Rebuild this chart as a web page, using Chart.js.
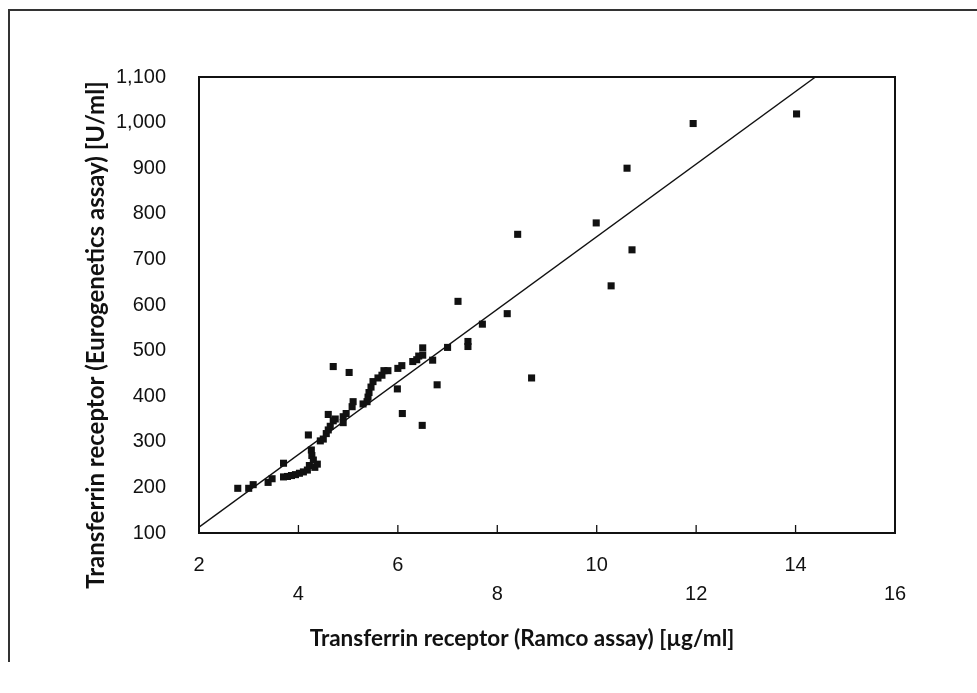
<!DOCTYPE html>
<html>
<head>
<meta charset="utf-8">
<script src="https://cdn.jsdelivr.net/npm/chart.js@4.4.1/dist/chart.umd.min.js"></script>
<style>
  html, body { margin: 0; padding: 0; background: #fff; }
  #wrap { position: relative; width: 977px; height: 693px; overflow: hidden; }
  #frame { position: absolute; left: 8px; top: 9px; width: 990px; height: 651px;
           border-top: 2px solid #333; border-left: 2px solid #333; }
  canvas { position: absolute; left: 0; top: 0; }
</style>
</head>
<body>
<div id="wrap">
  <div id="frame"></div>
  <canvas id="c" width="977" height="693"></canvas>
</div>
<script>
// ---- data ----
const ramcoX = [
  2.78, 3.00, 3.09, 3.39, 3.47, 3.70, 3.70, 3.78, 3.86, 3.94,
  4.02, 4.10, 4.18, 4.20, 4.22, 4.26, 4.27, 4.30, 4.33, 4.38,
  4.44, 4.50, 4.56, 4.60, 4.60, 4.64, 4.70, 4.70, 4.74, 4.90,
  4.90, 4.96, 5.02, 5.08, 5.10, 5.30, 5.38, 5.40, 5.42, 5.46,
  5.50, 5.60, 5.68, 5.72, 5.80, 5.99, 6.00, 6.08, 6.09, 6.30,
  6.38, 6.42, 6.50, 6.50, 6.49, 6.70, 6.79, 7.00, 7.21, 7.41,
  7.41, 7.70, 8.20, 8.41, 8.69, 9.99, 10.29, 10.61, 10.71, 11.94,
  14.02
];
const euroY = [
  198, 198, 206, 211, 219, 253, 223, 224, 226, 228,
  231, 234, 238, 315, 248, 282, 270, 260, 244, 251,
  302, 306, 318, 326, 360, 334, 346, 465, 350, 342,
  355, 362, 452, 377, 388, 383, 388, 398, 408, 420,
  432, 440, 446, 456, 456, 416, 461, 467, 362, 476,
  480, 488, 506, 490, 336, 479, 425, 507, 608, 520,
  509, 558, 581, 755, 440, 780, 642, 900, 721, 998,
  1019
];
const fitX = [2, 14.4];
const fitY = [113, 1100];
const xTicksUpper = [2, 6, 10, 14];
const xTicksLower = [4, 8, 12, 16];
const yTickValues = [100, 200, 300, 400, 500, 600, 700, 800, 900, 1000, 1100];
const xTitle = 'Transferrin receptor (Ramco assay) [µg/ml]';
const yTitle = 'Transferrin receptor (Eurogenetics assay) [U/ml]';

const scatterPts = ramcoX.map((x, i) => ({ x: x, y: euroY[i] }));
const fitPts = fitX.map((x, i) => ({ x: x, y: fitY[i] }));

const tickFont = '"Liberation Sans", Arial, sans-serif';

const frameAndTicks = {
  id: 'frameAndTicks',
  afterDraw(chart) {
    const { ctx, chartArea: a, scales } = chart;
    ctx.save();
    ctx.strokeStyle = '#111';
    ctx.lineWidth = 2;
    ctx.strokeRect(a.left, a.top, a.right - a.left, a.bottom - a.top);
    ctx.lineWidth = 1.3;
    [...xTicksUpper, ...xTicksLower].forEach(v => {
      if (v <= 2 || v >= 16) return;
      const px = scales.x.getPixelForValue(v);
      ctx.beginPath();
      ctx.moveTo(px, a.bottom);
      ctx.lineTo(px, a.bottom - 8);
      ctx.stroke();
    });
    // axis titles
    ctx.fillStyle = '#111';
    ctx.textAlign = 'center';
    ctx.textBaseline = 'middle';
    ctx.font = 'bold 22.5px Lato, "Open Sans", sans-serif';
    ctx.fillText(xTitle, a.left + 323, a.bottom + 106);
    ctx.font = 'bold 24px Lato, "Open Sans", sans-serif';
    ctx.translate(96, a.top + 258);
    ctx.rotate(-Math.PI / 2);
    ctx.fillText(yTitle, 0, 0);
    ctx.restore();
  }
};

new Chart(document.getElementById('c'), {
  type: 'scatter',
  data: {
    datasets: [
      {
        label: 'Samples',
        data: scatterPts,
        pointStyle: 'rect',
        pointRadius: 5,
        pointBackgroundColor: '#111',
        pointBorderColor: '#111',
        pointBorderWidth: 0,
        showLine: false
      },
      {
        label: 'Fit',
        data: fitPts,
        showLine: true,
        borderColor: '#111',
        borderWidth: 1.4,
        pointRadius: 0,
        fill: false
      }
    ]
  },
  options: {
    responsive: false,
    animation: false,
    layout: { padding: { top: 77, right: 82, left: 0, bottom: 0 } },
    plugins: { legend: { display: false }, tooltip: { enabled: false } },
    scales: {
      x: {
        type: 'linear',
        min: 2, max: 16,
        afterFit: s => { s.height = 160; },
        afterBuildTicks: s => { s.ticks = [...xTicksUpper, ...xTicksLower].sort((a, b) => a - b).map(v => ({ value: v })); },
        grid: { display: false, drawTicks: false },
        border: { display: false },
        ticks: {
          padding: 18,
          color: '#111',
          maxRotation: 0,
          autoSkip: false,
          font: { family: tickFont, size: 20, lineHeight: 29 / 20 },
          callback: v => xTicksUpper.includes(v) ? [String(v)] : ['', String(v)]
        }
      },
      y: {
        type: 'linear',
        min: 100, max: 1100,
        afterFit: s => { s.width = 199; },
        afterBuildTicks: s => { s.ticks = yTickValues.map(v => ({ value: v })); },
        grid: { display: false, drawTicks: false },
        border: { display: false },
        ticks: {
          padding: 33,
          color: '#111',
          autoSkip: false,
          font: { family: tickFont, size: 20 },
          callback: v => v.toLocaleString('en-US')
        }
      }
    }
  },
  plugins: [frameAndTicks]
});
</script>
</body>
</html>
